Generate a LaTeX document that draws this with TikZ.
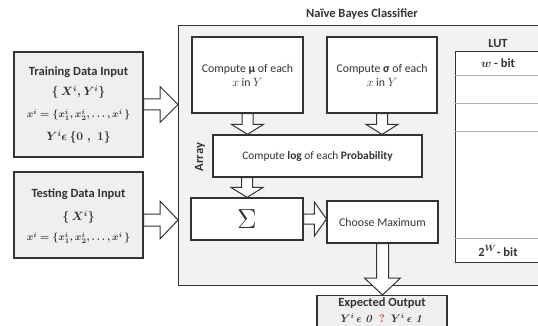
\documentclass[tikz,border=0pt]{standalone}
\usepackage[no-math]{fontspec}
\setmainfont{Carlito}
\usepackage{amsmath}
\usetikzlibrary{calc}
\definecolor{ink}{HTML}{333333}
\definecolor{panelgray}{HTML}{F2F2F0}
\definecolor{inputgray}{HTML}{EFEFEF}
\definecolor{rowline}{HTML}{B0B0B0}
\definecolor{qred}{HTML}{C0392B}

% vertical block arrow: from, to, shaft half width, head half width, head length
\newcommand\vblk[5]{%
  \draw[blk] let \p1=#1, \p2=#2 in
    ({\x1-#3pt},\y1) -- ({\x1-#3pt},{\y2+#5pt}) -- ({\x1-#4pt},{\y2+#5pt}) --
    (\x1,\y2) -- ({\x1+#4pt},{\y2+#5pt}) -- ({\x1+#3pt},{\y2+#5pt}) --
    ({\x1+#3pt},\y1) -- cycle;}
% horizontal block arrow: from, to, shaft half width, head half width, head length
\newcommand\hblk[5]{%
  \draw[blk] let \p1=#1, \p2=#2 in
    (\x1,{\y1+#3pt}) -- ({\x2-#5pt},{\y1+#3pt}) -- ({\x2-#5pt},{\y1+#4pt}) --
    (\x2,\y1) -- ({\x2-#5pt},{\y1-#4pt}) -- ({\x2-#5pt},{\y1-#3pt}) --
    (\x1,{\y1-#3pt}) -- cycle;}

\tikzset{
  every node/.style={text=ink, font=\fontsize{11.8}{14}\selectfont},
  inbox/.style={draw=ink, line width=1.3pt, fill=inputgray, align=center},
  panel/.style={draw=ink, line width=1.3pt, fill=panelgray},
  stepbox/.style={draw=ink, line width=1.2pt, fill=white, align=center},
  blk/.style={draw=ink, line width=1pt, fill=white},
  heading/.style={font=\fontsize{12.5}{14}\selectfont\bfseries\boldmath},
  formula/.style={font=\fontsize{11.5}{14}\selectfont\boldmath},
  setline/.style={font=\fontsize{10.4}{12}\selectfont\boldmath},
}

\begin{document}
\begin{tikzpicture}[x=1pt, y=-1pt]
\useasboundingbox (0,0) rectangle (538,326);
\clip (0,0) rectangle (538,326);
\fill[white] (0,0) rectangle (538,326);

% inputs
\node[inbox, minimum width=129pt, minimum height=105pt] (train) at (78.5,104.5) {};
\node[heading] at (78.5,72) {Training Data Input};
\node[formula] at (78.5,92) {$\{\,X^i, Y^i\}$};
\node[setline] at (78.5,115) {$x^i = \{x^i_1, x^i_2, \ldots, x^i\,\}$};
\node[formula] at (78.5,137) {$Y^i\epsilon\,\{0\;,\;1\}$};

\node[inbox, minimum width=129pt, minimum height=86pt] (test) at (78.5,215) {};
\node[heading] at (78.5,194) {Testing Data Input};
\node[formula] at (78.5,217) {$\{\,X^i\}$};
\node[setline] at (78.5,238) {$x^i = \{x^i_1, x^i_2, \ldots, x^i\,\}$};

% classifier panel
\node[panel, anchor=north west, minimum width=400pt, minimum height=260pt] (nbc) at (178,25) {};
\node[heading] at (362,14) {Naïve Bayes Classifier};
\node[heading, rotate=90] at (200,157) {Array};

% processing steps
\node[stepbox, minimum width=111pt, minimum height=76pt] (mu) at (247.5,75)
  {Compute \textbf{μ} of each\\ $x$ in $Y$};
\node[stepbox, minimum width=110pt, minimum height=76pt] (sig) at (382,75)
  {Compute \textbf{σ} of each\\ $x$ in $Y$};
\node[stepbox, minimum width=209pt, minimum height=42pt, font=\fontsize{11.4}{14}\selectfont] (log) at (317.5,156)
  {Compute \textbf{log} of each \textbf{Probability}};
\node[stepbox, minimum width=112pt, minimum height=42pt] (sum) at (247,219)
  {\scalebox{2.3}{$\Sigma$}};
\node[stepbox, minimum width=111pt, minimum height=42pt] (max) at (382.5,222)
  {Choose Maximum};

% look-up table
\node[stepbox, anchor=north west, minimum width=150pt, minimum height=211pt] (lut) at (455,51) {};
\node[heading] at (498,43) {LUT};
\foreach \yy in {75,103,131,238}
  \draw[rowline, line width=0.8pt] (lut.north west |- 0,\yy) -- (538,\yy);
\node[heading] at (498,63) {$w$ - bit};
\node[heading] at (498,251) {2$^{W}$- bit};

% output
\node[inbox, anchor=north, minimum width=130pt, minimum height=45pt] (out) at (382,295) {};
\node[heading] at (382,303) {Expected Output};
\node[formula, font=\fontsize{10.5}{12}\selectfont\boldmath] at (382,318)
  {$Y^i\,\epsilon\;\mathit{0}$\;\;\textcolor{qred}{$\mathit{?}$}\;\;$Y^i\,\epsilon\;\mathit{1}$};

% block arrows
\hblk{(train.east)}{(nbc.west |- train.east)}{5.5}{18}{18}
\hblk{($(test.east)+(0,5)$)}{(nbc.west |- 0,220)}{6}{19}{18}
\vblk{(mu.south)}{(log.north -| mu.south)}{5.5}{16}{10}
\vblk{(sig.south)}{(log.north -| sig.south)}{5.5}{16}{10}
\vblk{(log.south -| sum.north)}{(sum.north)}{5.5}{16}{10}
\hblk{(sum.east)}{(max.west |- sum.east)}{5}{17}{12}
\vblk{(max.south)}{(out.north)}{6}{18}{17}
\end{tikzpicture}
\end{document}
